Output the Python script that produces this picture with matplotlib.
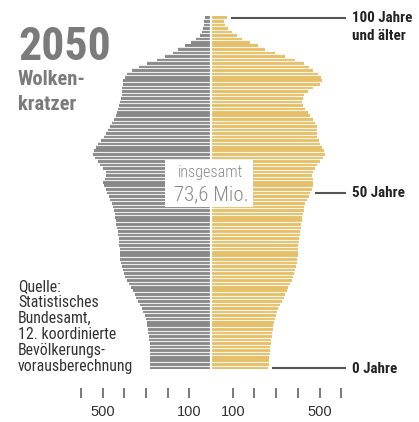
import os
import matplotlib
matplotlib.use("Agg")
import matplotlib.pyplot as plt
import matplotlib.font_manager as fm
import numpy as np
from matplotlib.patches import Rectangle

# ---- data (thousands of persons per single year of age, 2050) ----
ages = list(range(0, 101))
men = [280, 281, 281, 281, 281, 281, 282, 283, 285, 288,
       290, 292, 294, 296, 300, 306, 313, 320, 328, 336,
       344, 352, 360, 369, 378, 387, 395, 401, 406, 411,
       415, 418, 420, 420, 421, 422, 424, 426, 428, 430,
       433, 436, 438, 441, 444, 448, 452, 458, 464, 470,
       478, 486, 494, 498, 490, 482, 484, 498, 511, 522,
       534, 544, 540, 530, 520, 505, 492, 482, 475, 465,
       455, 446, 438, 433, 428, 423, 420, 416, 412, 410,
       408, 406, 404, 398, 385, 365, 330, 295, 250, 210,
       175, 150, 120, 92, 68, 52, 42, 37, 34, 30,
       28]
women = [263, 265, 267, 269, 271, 272, 274, 276, 278, 280,
         282, 284, 286, 290, 294, 299, 303, 310, 318, 327,
         335, 343, 350, 357, 364, 371, 378, 384, 389, 393,
         396, 398, 400, 401, 401, 402, 404, 406, 409, 412,
         414, 417, 419, 421, 424, 427, 430, 433, 441, 450,
         458, 465, 468, 470, 468, 465, 470, 480, 488, 500,
         515, 525, 520, 510, 502, 496, 490, 488, 488, 487,
         478, 468, 458, 446, 435, 425, 419, 422, 430, 445,
         470, 500, 511, 508, 492, 470, 452, 430, 385, 340,
         295, 250, 215, 180, 143, 118, 97, 80, 65, 58,
         74]
tick_values = [100, 200, 300, 400, 500, 600]
tick_labels_shown = ["100", "500"]
marked_ages = [100, 50, 0]
marked_labels = [["100 Jahre", "und älter"], ["50 Jahre"], ["0 Jahre"]]
total_text = ["insgesamt", "73,6 Mio."]
title = "2050"
subtitle = ["Wolken-", "kratzer"]
source = ["Quelle:", "Statistisches", "Bundesamt,", "12. koordinierte",
          "Bevölkerungs-", "vorausberechnung"]


# ---- condensed font lookup ----
PREFS = ["robotocondensed", "liberationsansnarrow", "dejavusanscondensed"]
FILES = {}
for f in fm.fontManager.ttflist:
    fn = os.path.basename(f.fname).lower().replace("-", "").replace("_", "")
    stem = fn.rsplit(".", 1)[0]
    for p in PREFS:
        if stem.startswith(p):
            FILES.setdefault((p, stem[len(p):]), f.fname)


def narrow_font(variants):
    for p in PREFS:
        for v in variants:
            if (p, v) in FILES:
                return fm.FontProperties(fname=FILES[(p, v)]), p
    w = "bold" if "bold" in variants else "normal"
    return fm.FontProperties(family="Roboto", weight=w), "roboto"


FP_B, name_b = narrow_font(["bold"])
FP_R, name_r = narrow_font(["regular", ""])
FP_L, name_l = narrow_font(["light", "regular", ""])
scale = {"robotocondensed": 1.0, "liberationsansnarrow": 1.0,
         "dejavusanscondensed": 0.85, "roboto": 0.85}

# ---- style ----
W, H = 419, 422
GRAY = "#888888"
YELLOW = "#e6bf69"
TXT_GRAY = "#7b7b7b"

fig = plt.figure(figsize=(W / 100, H / 100), dpi=100)
fig.patch.set_facecolor("white")

px_per_k = 0.217
cx = 211.0
axis_bottom_px = 398.0
ax = fig.add_axes([0, (H - axis_bottom_px) / H, 1, axis_bottom_px / H])
ax.set_xlim(-cx / px_per_k, (W - cx) / px_per_k)
age0_px, pitch = 367.5, 3.5
ax.set_ylim((age0_px - axis_bottom_px) / pitch, age0_px / pitch)
for s in ax.spines.values():
    s.set_visible(False)
ax.set_facecolor("none")

a = np.array(ages)
m = np.array(men)
w = np.array(women)
ax.barh(a, -m, height=1.0, color=GRAY, linewidth=0, zorder=1)
ax.barh(a, w, height=1.0, color=YELLOW, linewidth=0, zorder=1)

# thin white separators between the one-year bars (every 10th merged)
sep = [x + 0.5 for x in ages[:-1] if x % 10 != 2]
ax.hlines(sep, -700, 700, colors="white", linewidth=0.85, alpha=0.85, zorder=2)
ax.axvline(0, color="white", linewidth=1.6, zorder=2)

# ticks
xt = [-v for v in tick_values] + tick_values
xl = [str(v) if str(v) in tick_labels_shown else "" for v in tick_values]
ax.set_xticks(xt)
ax.set_xticklabels(xl + xl)
ax.set_yticks([])
ax.tick_params(axis="x", direction="in", length=7.5, width=1.1, color="#555555",
               pad=5, labelsize=10.5, labelcolor="#333333")
for lab in ax.get_xticklabels():
    lab.set_fontfamily(["Liberation Sans", "DejaVu Sans"])

# total box
ax.add_patch(Rectangle((-212, 45.9), 405, 13.4, facecolor="white",
                       edgecolor="none", zorder=3))


def fx(x):
    return x / W


def fy(y):
    return 1 - y / H


def put(x, y, s, size, fp, name, color, ha="left"):
    t = fig.text(fx(x), fy(y), s, ha=ha, va="baseline", color=color,
                 fontproperties=fp, zorder=5)
    t.set_fontsize(size * scale.get(name, 1.0))
    return t


put(211, 177, total_text[0], 11.6, FP_L, name_l, "#8a8a8a", ha="center")
put(211, 200, total_text[1], 15, FP_L, name_l, "#8a8a8a", ha="center")

# age markers
for age in marked_ages:
    ax.hlines(age, women[age] + 20, 622, colors="#555555", linewidth=1.5, zorder=3)
label_baselines = [[22, 40], [197], [373]]
for lines, bases in zip(marked_labels, label_baselines):
    for s, b in zip(lines, bases):
        put(352, b, s, 10.8, FP_B, name_b, "#222222")

# title
put(18, 60, title, 33, FP_B, name_b, TXT_GRAY)
put(18, 85, subtitle[0], 14.8, FP_B, name_b, TXT_GRAY)
put(18, 110, subtitle[1], 14.8, FP_B, name_b, TXT_GRAY)

# source
for i, line in enumerate(source):
    put(18, 291 + 16 * i, line, 11.4, FP_R, name_r, "#333333")

fig.savefig("out.png", dpi=100, facecolor="white")
